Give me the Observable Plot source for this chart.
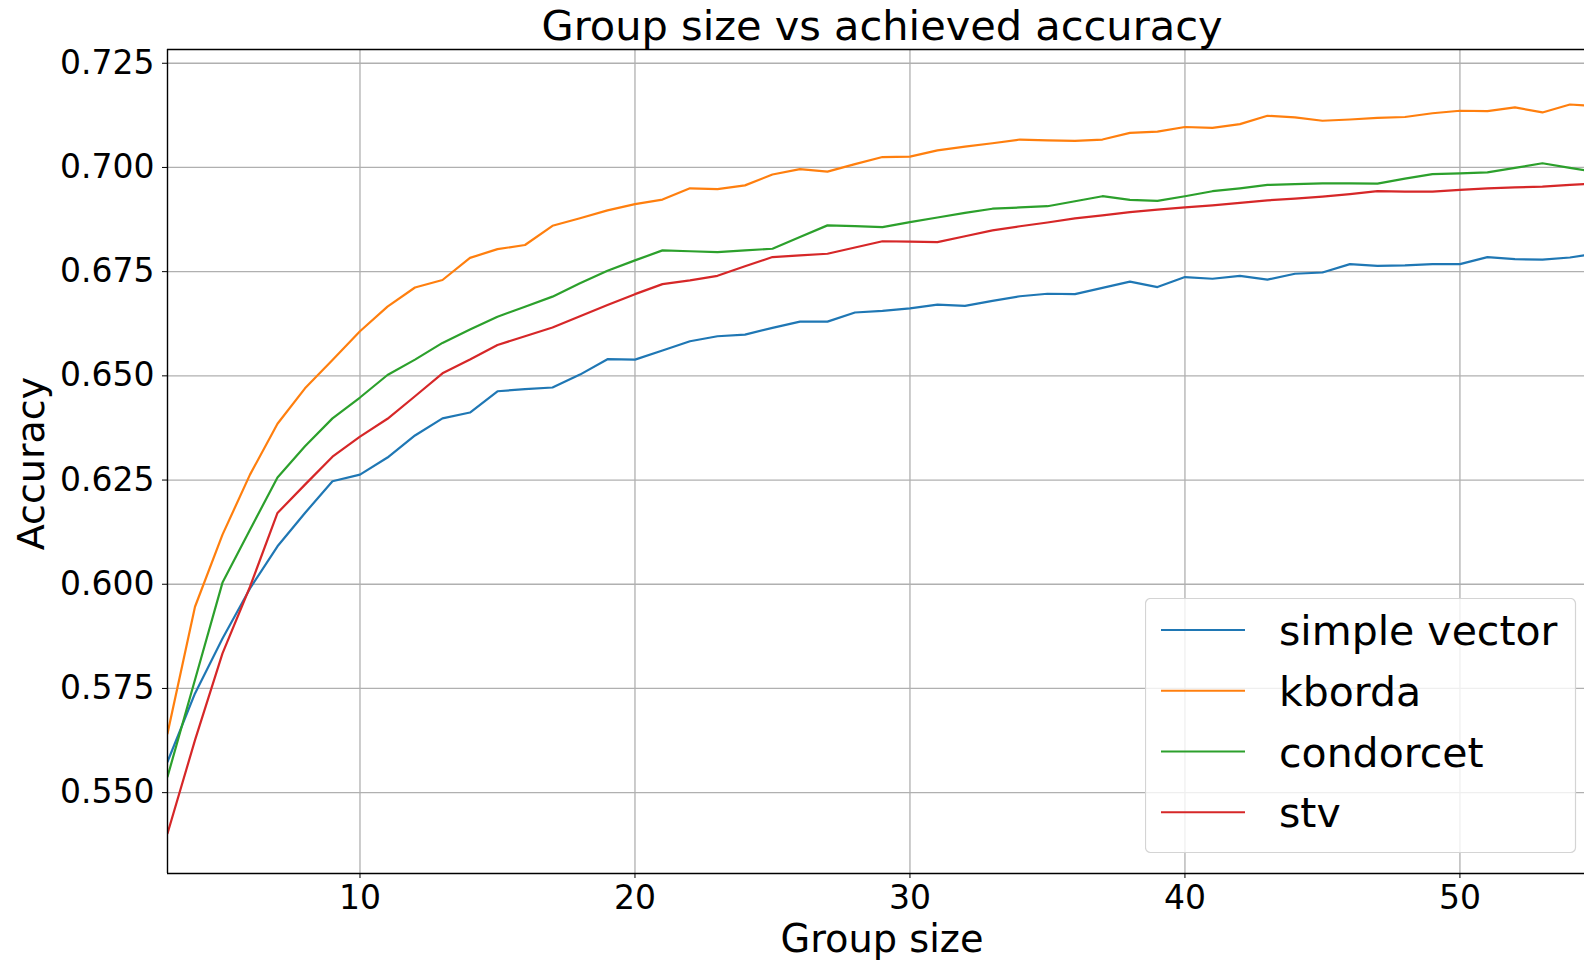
<!DOCTYPE html>
<html><head><meta charset="utf-8">
<script src="https://cdn.jsdelivr.net/npm/d3@7"></script>
<script src="https://cdn.jsdelivr.net/npm/@observablehq/plot@0.6"></script>
<style>
html,body{margin:0;padding:0;background:#fff;overflow:hidden;}
#chart{position:relative;width:1584px;height:963px;font-family:"DejaVu Sans",sans-serif;}
#chart > svg{display:block;}
#legend{position:absolute;left:1145px;top:598px;}
</style></head><body><div id="chart"></div>
<script>
const groupSizes = [3,4,5,6,7,8,9,10,11,12,13,14,15,16,17,18,19,20,21,22,23,24,25,26,27,28,29,30,31,32,33,34,35,36,37,38,39,40,41,42,43,44,45,46,47,48,49,50,51,52,53,54,55];
const simpleVector = [0.5574,0.5738,0.5870,0.5990,0.6091,0.6171,0.6247,0.6263,0.6304,0.6357,0.6398,0.6412,0.6463,0.6468,0.6472,0.6503,0.6540,0.6539,0.6561,0.6583,0.6595,0.6599,0.6615,0.6630,0.6630,0.6652,0.6656,0.6662,0.6671,0.6668,0.6680,0.6691,0.6697,0.6696,0.6711,0.6726,0.6713,0.6737,0.6733,0.6740,0.6731,0.6745,0.6748,0.6768,0.6764,0.6765,0.6768,0.6768,0.6785,0.6780,0.6779,0.6784,0.6794];
const kborda = [0.5642,0.5946,0.6119,0.6263,0.6385,0.6470,0.6538,0.6607,0.6666,0.6712,0.6730,0.6783,0.6804,0.6814,0.6860,0.6878,0.6897,0.6912,0.6923,0.6950,0.6948,0.6957,0.6983,0.6996,0.6990,0.7008,0.7025,0.7026,0.7041,0.7050,0.7058,0.7067,0.7065,0.7064,0.7067,0.7083,0.7086,0.7097,0.7095,0.7104,0.7124,0.7120,0.7112,0.7115,0.7119,0.7121,0.7130,0.7136,0.7135,0.7144,0.7132,0.7151,0.7147];
const condorcet = [0.5538,0.5771,0.6004,0.6131,0.6256,0.6331,0.6398,0.6448,0.6502,0.6539,0.6579,0.6611,0.6642,0.6666,0.6690,0.6722,0.6752,0.6777,0.6801,0.6799,0.6797,0.6801,0.6805,0.6833,0.6861,0.6859,0.6857,0.6869,0.6880,0.6891,0.6901,0.6904,0.6907,0.6919,0.6931,0.6922,0.6920,0.6931,0.6943,0.6950,0.6958,0.6960,0.6962,0.6962,0.6961,0.6973,0.6984,0.6986,0.6988,0.6999,0.7010,0.6999,0.6988];
const stv = [0.5402,0.5626,0.5834,0.5994,0.6171,0.6239,0.6306,0.6354,0.6397,0.6451,0.6506,0.6539,0.6574,0.6595,0.6616,0.6643,0.6670,0.6696,0.6720,0.6729,0.6740,0.6763,0.6785,0.6789,0.6793,0.6808,0.6823,0.6822,0.6821,0.6835,0.6849,0.6859,0.6868,0.6878,0.6885,0.6893,0.6899,0.6904,0.6909,0.6915,0.6921,0.6925,0.6930,0.6936,0.6943,0.6942,0.6942,0.6946,0.6950,0.6952,0.6954,0.6958,0.6962];

const seriesNames = ["simple vector", "kborda", "condorcet", "stv"];
const seriesColors = ["#1f77b4", "#ff7f0e", "#2ca02c", "#d62728"];
const xTicks = [10, 20, 30, 40, 50];
const yTicks = [0.550, 0.575, 0.600, 0.625, 0.650, 0.675, 0.700, 0.725];
const xDomain = [3, 54.53];
const yDomain = [0.5306, 0.7283];
const titleText = "Group size vs achieved accuracy";
const xLabel = "Group size";
const yLabel = "Accuracy";

const seriesValues = [simpleVector, kborda, condorcet, stv];
const rows = seriesNames.flatMap((name, i) =>
  groupSizes.map((g, j) => ({series: name, size: g, acc: seriesValues[i][j]})));

const plot = Plot.plot({
  width: 1584, height: 963,
  marginLeft: 167, marginRight: 0, marginTop: 49, marginBottom: 90,
  style: {fontFamily: "DejaVu Sans", background: "#fff", color: "#000"},
  x: {domain: xDomain},
  y: {domain: yDomain},
  color: {domain: seriesNames, range: seriesColors},
  marks: [
    Plot.gridX(xTicks, {stroke: "#b0b0b0", strokeOpacity: 1, strokeWidth: 1.3}),
    Plot.gridY(yTicks, {stroke: "#b0b0b0", strokeOpacity: 1, strokeWidth: 1.3}),
    Plot.line(rows, {x: "size", y: "acc", z: "series", stroke: "series", strokeWidth: 2.2, clip: true}),
    Plot.ruleX([xDomain[0]], {stroke: "#000", strokeWidth: 1.4}),
    Plot.ruleY([yDomain[0], yDomain[1]], {stroke: "#000", strokeWidth: 1.4}),
    Plot.axisX(xTicks, {tickSize: 5, tickPadding: 7, fontSize: 33, label: null, tickFormat: d => String(d)}),
    Plot.axisY(yTicks, {tickSize: 5, tickPadding: 8, fontSize: 33, label: null, tickFormat: d3.format(".3f")}),
    Plot.text([xLabel], {frameAnchor: "bottom", textAnchor: "middle", lineAnchor: "bottom", dy: 78, dx: 6, fontSize: 38.3, fill: "#000"}),
    Plot.text([yLabel], {frameAnchor: "left", textAnchor: "middle", lineAnchor: "bottom", rotate: -90, dx: -124, dy: 2, fontSize: 38, fill: "#000"}),
    Plot.text([titleText], {frameAnchor: "top", textAnchor: "middle", lineAnchor: "bottom", dy: -9.7, dx: 6, fontSize: 41.5, fill: "#000"})
  ]
});
document.getElementById("chart").appendChild(plot);

// legend
const lg = d3.select("#chart").append("svg").attr("id", "legend")
  .attr("width", 432).attr("height", 256)
  .style("font-family", "DejaVu Sans");
lg.append("rect").attr("x", 0.5).attr("y", 0.5).attr("width", 430).attr("height", 254)
  .attr("rx", 5).attr("fill", "rgba(255,255,255,0.8)").attr("stroke", "#d4d4d4").attr("stroke-width", 1.2);
seriesNames.forEach((n, i) => {
  const cy = 32 + i * 60.75;
  lg.append("line").attr("x1", 16).attr("x2", 100).attr("y1", cy).attr("y2", cy)
    .attr("stroke", seriesColors[i]).attr("stroke-width", 2.2);
  lg.append("text").attr("x", 134).attr("y", cy + 15).attr("font-size", 41).attr("fill", "#000").text(n);
});
</script>
</body></html>
